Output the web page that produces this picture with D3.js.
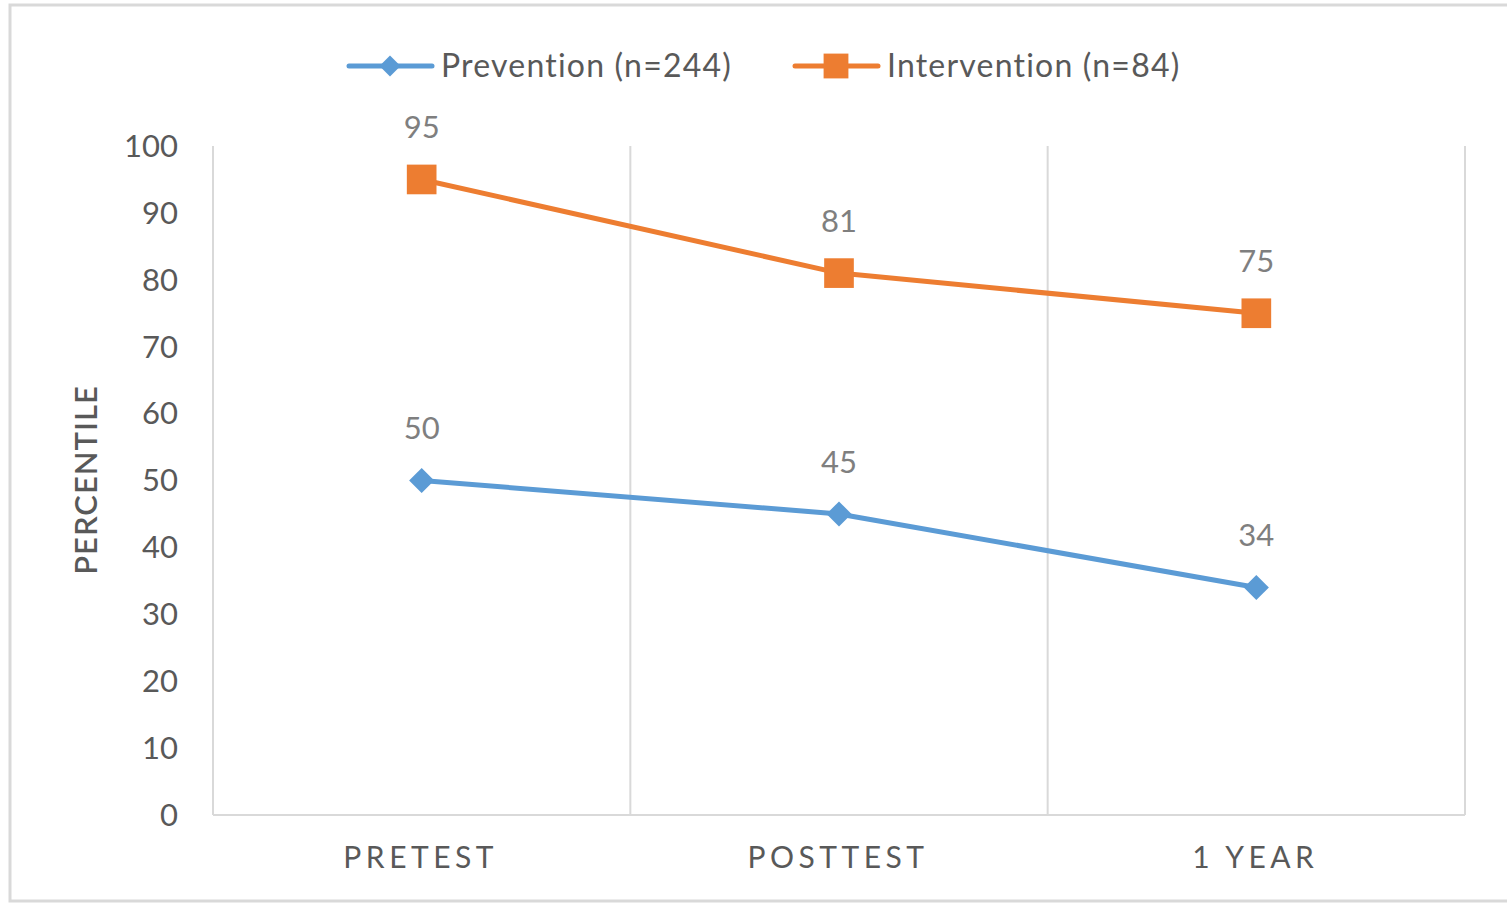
<!DOCTYPE html>
<html>
<head>
<meta charset="utf-8">
<script src="https://cdn.jsdelivr.net/npm/d3@7"></script>
<style>
  body { margin: 0; background: #fff; }
  svg { display: block; font-family: Lato, "Open Sans", sans-serif; }
</style>
</head>
<body>
<div id="graphContainer"></div>
<script>
// дані графіка
const categories = ["PRETEST", "POSTTEST", "1 YEAR"];
const prevention = [50, 45, 34];
const intervention = [95, 81, 75];
const seriesNames = ["Prevention (n=244)", "Intervention (n=84)"];
const yTicks = [0, 10, 20, 30, 40, 50, 60, 70, 80, 90, 100];

function add() {
    let width = 1507;
    let height = 903;
    let svg = d3.select("#graphContainer").append("svg")
        .attr("width", width)
        .attr("height", height);
    return { svg, width, height };
}

function draw() {
    let { svg, width, height } = add();

    // рамка навколо діаграми
    svg.append("rect")
        .attr("x", 10).attr("y", 5)
        .attr("width", width + 20).attr("height", 896)
        .attr("fill", "none")
        .attr("stroke", "#d9d9d9")
        .attr("stroke-width", 3);

    let left = 213, right = 1465, top = 146, bottom = 815;

    let x = d3.scaleBand().domain(categories).range([left, right]);
    let y = d3.scaleLinear().domain([0, 100]).range([bottom, top]);

    // вертикальні лінії між категоріями
    let bounds = categories.map(c => x(c)).concat([right]);
    svg.selectAll(".grid").data(bounds).enter().append("line")
        .attr("x1", d => d).attr("x2", d => d)
        .attr("y1", top).attr("y2", bottom)
        .attr("stroke", "#d9d9d9").attr("stroke-width", 2);

    svg.append("line")
        .attr("x1", left).attr("x2", right)
        .attr("y1", bottom).attr("y2", bottom)
        .attr("stroke", "#d9d9d9").attr("stroke-width", 2);

    // вісь Y
    svg.selectAll(".ytick").data(yTicks).enter().append("text")
        .attr("x", 178)
        .attr("y", d => y(d))
        .attr("dy", "0.35em")
        .attr("text-anchor", "end")
        .attr("font-size", 31)
        .attr("fill", "#595959")
        .text(d => d);

    // вісь X
    svg.selectAll(".xtick").data(categories).enter().append("text")
        .attr("x", d => x(d) + x.bandwidth() / 2 - 1)
        .attr("y", 868)
        .attr("text-anchor", "middle")
        .attr("font-size", 30)
        .attr("letter-spacing", "4.5px")
        .attr("fill", "#595959")
        .text(d => d);

    svg.append("text")
        .attr("transform", "translate(97,480) rotate(-90)")
        .attr("text-anchor", "middle")
        .attr("font-size", 31)
        .attr("font-weight", 600)
        .attr("letter-spacing", "1px")
        .attr("fill", "#595959")
        .text("PERCENTILE");

    let cx = d => x(d) + x.bandwidth() / 2;
    let line = d3.line().x(d => cx(d[0])).y(d => y(d[1]));

    let series = [
        { name: seriesNames[0], values: prevention, color: "#5b9bd5", shape: d3.symbolDiamond2, size: 400 },
        { name: seriesNames[1], values: intervention, color: "#ed7d31", shape: d3.symbolSquare, size: 880 }
    ];

    series.forEach(s => {
        let pts = categories.map((c, i) => [c, s.values[i]]);
        svg.append("path")
            .attr("d", line(pts))
            .attr("fill", "none")
            .attr("stroke", s.color)
            .attr("stroke-width", 5)
            .attr("stroke-linejoin", "round");

        svg.selectAll(null).data(pts).enter().append("path")
            .attr("transform", d => `translate(${cx(d[0])},${y(d[1])})`)
            .attr("d", d3.symbol().type(s.shape).size(s.size))
            .attr("fill", s.color);

        svg.selectAll(null).data(pts).enter().append("text")
            .attr("x", d => cx(d[0]))
            .attr("y", d => y(d[1]) - 52)
            .attr("dy", "0.35em")
            .attr("text-anchor", "middle")
            .attr("font-size", 31)
            .attr("fill", "#7f7f7f")
            .text(d => d[1]);
    });

    // легенда
    let legendX = [349, 795];
    series.forEach((s, i) => {
        let g = svg.append("g").attr("transform", `translate(${legendX[i]},66)`);
        g.append("line").attr("x1", 0).attr("x2", 83)
            .attr("stroke", s.color).attr("stroke-width", 5).attr("stroke-linecap", "round");
        g.append("path")
            .attr("transform", "translate(41,0)")
            .attr("d", d3.symbol().type(s.shape).size(s.size * 0.7))
            .attr("fill", s.color);
        g.append("text")
            .attr("x", 92).attr("dy", "0.35em")
            .attr("font-size", 32)
            .attr("letter-spacing", "1.2px")
            .attr("fill", "#595959")
            .text(s.name);
    });
}

draw();
</script>
</body>
</html>
